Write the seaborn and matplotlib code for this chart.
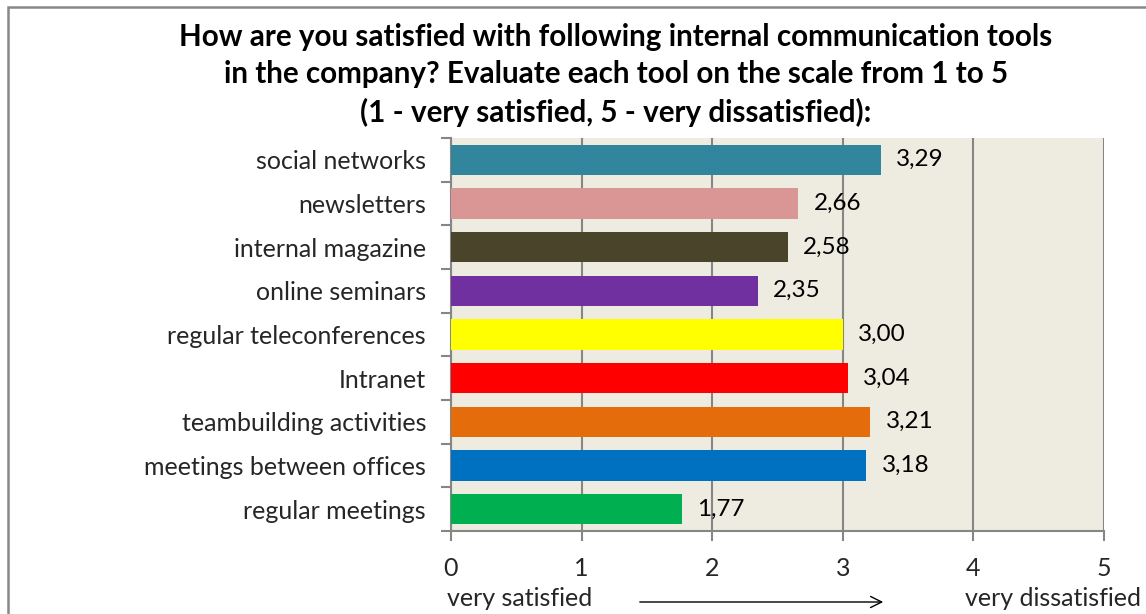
import matplotlib
matplotlib.use("Agg")
import matplotlib.pyplot as plt
from matplotlib.patches import Rectangle, FancyArrowPatch
import seaborn as sns

tools = [
    "social networks",
    "newsletters",
    "internal magazine",
    "online seminars",
    "regular teleconferences",
    "Intranet",
    "teambuilding activities",
    "meetings between offices",
    "regular meetings",
]
scores = [3.29, 2.66, 2.58, 2.35, 3.00, 3.04, 3.21, 3.18, 1.77]
bar_colors = [
    "#31859C", "#D99694", "#4A452A", "#7030A0", "#FFFF00",
    "#FF0000", "#E46C0A", "#0070C0", "#00B050",
]
x_ticks = [0, 1, 2, 3, 4, 5]
title_lines = [
    "How are you satisfied with following internal communication tools",
    "in the company? Evaluate each tool on the scale from 1 to 5",
    "(1 - very satisfied, 5 - very dissatisfied):",
]

sns.set_theme(style="white")
plt.rcParams["font.family"] = ["Lato", "DejaVu Sans"]

W, H = 1146, 614
fig = plt.figure(figsize=(W / 100, H / 100), dpi=100)
fig.patch.set_facecolor("white")

# outer frame of the chart object
frame = Rectangle((8 / W, -0.05), 1.2, 1 - 7 / H + 0.05, transform=fig.transFigure,
                  fill=False, edgecolor="#888888", linewidth=1.8)
fig.add_artist(frame)

ax = fig.add_axes([451 / W, 1 - 531 / H, (1104 - 451) / W, (531 - 138) / H])
ax.set_facecolor("#EEECE1")

sns.barplot(x=scores, y=tools, hue=tools, palette=bar_colors, legend=False,
            orient="h", width=0.7, saturation=1, linewidth=0, ax=ax, zorder=3)

for cont in ax.containers:
    vals = cont.datavalues
    ax.bar_label(cont, labels=[f"{v:.2f}".replace(".", ",") for v in vals],
                 padding=11, fontsize=17.5, color="black")

ax.set_xlim(0, 5)
ax.set_ylim(len(tools) - 0.5, -0.5)
ax.set_xticks(x_ticks)
ax.set_xticklabels([str(t) for t in x_ticks], fontsize=18)
ax.set_xlabel("")
ax.set_ylabel("")
ax.grid(axis="x", color="#868686", linewidth=1.5, zorder=0)
ax.grid(axis="y", visible=False)

for side in ["top", "right"]:
    ax.spines[side].set_visible(False)
for side in ["left", "bottom"]:
    ax.spines[side].set_color("#868686")
    ax.spines[side].set_linewidth(1.5)

ax.tick_params(axis="x", which="major", direction="out", length=7, width=1.5,
               color="#868686", pad=12, bottom=True)
# category boundary ticks on the value axis side
ax.set_yticks(range(len(tools)))
ax.set_yticklabels(tools, fontsize=18)
ax.tick_params(axis="y", which="major", length=0, pad=18)
ax.set_yticks([i - 0.5 for i in range(len(tools) + 1)], minor=True)
ax.tick_params(axis="y", which="minor", direction="out", length=7, width=1.5,
               color="#868686", left=True)

for i, line in enumerate(title_lines):
    fig.text(616 / W, 1 - (37 + 37.5 * i) / H, line, ha="center", va="center",
             fontsize=21.3, fontweight="bold", color="black")

fig.text(447 / W, 1 - 598 / H, "very satisfied", ha="left", va="center", fontsize=18)
fig.text(1141 / W, 1 - 598 / H, "very dissatisfied", ha="right", va="center", fontsize=18)
arrow = FancyArrowPatch((637 / W, 1 - 602 / H), (886 / W, 1 - 602 / H),
                        transform=fig.transFigure, arrowstyle="->,head_length=8,head_width=4",
                        color="black", linewidth=1.0, mutation_scale=1)
fig.add_artist(arrow)

fig.savefig("out.png", dpi=100)
